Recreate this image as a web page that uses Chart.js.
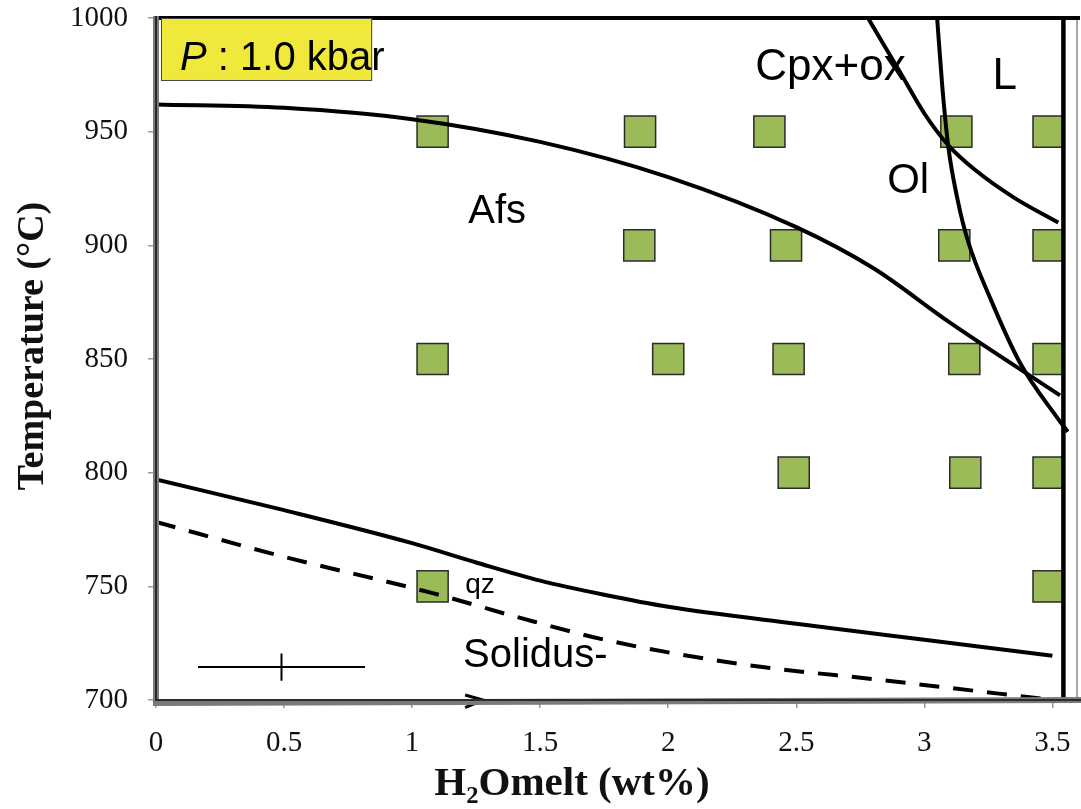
<!DOCTYPE html>
<html><head><meta charset="utf-8">
<script src="https://cdn.jsdelivr.net/npm/chart.js@4.4.1/dist/chart.umd.min.js"></script>
<style>html,body{margin:0;padding:0;background:#fff;}canvas{display:block;}</style>
</head><body>
<canvas id="c" width="1081" height="809"></canvas>
<script>
// ---- tick labels ----
const xTicks = [0, 0.5, 1, 1.5, 2, 2.5, 3, 3.5];
const yTicks = [700, 750, 800, 850, 900, 950, 1000];

// ---- experimental runs (H2O melt wt%, T °C) ----
const expH2O = [1.08, 1.89, 2.395, 3.125, 3.485,
                1.887, 2.46, 3.117, 3.485,
                1.08, 2.0, 2.47, 3.156, 3.485,
                2.49, 3.16, 3.485,
                1.08, 3.485];
const expT   = [950, 950, 950, 950, 950,
                900, 900, 900, 900,
                850, 850, 850, 850, 850,
                800, 800, 800,
                750, 750];

// ---- phase boundaries ----
const afsH2O = [0, 0.5, 1.0, 1.5, 2.0, 2.5, 2.8, 3.1, 3.53];
const afsT   = [962, 960.5, 955.5, 945.5, 930, 908, 890, 866, 834];

const qzH2O = [0, 0.5, 1.0, 1.25, 1.5, 1.75, 2.0, 2.5, 3.0, 3.5];
const qzT   = [797, 783.5, 769, 760.5, 752.5, 746.3, 741, 733.5, 726.5, 719.5];

const solidusH2O = [0, 0.5, 1.08, 1.41, 1.78, 2.31, 2.83, 3.49];
const solidusT   = [778.3, 763, 747, 736.5, 725.8, 715.4, 708.8, 700.2];

const cpxH2O = [2.78, 2.906, 3.0, 3.094, 3.2, 3.35, 3.523];
const cpxT   = [1000, 976, 958, 944, 933, 921, 910];

const olH2O = [3.05, 3.07, 3.094, 3.13, 3.17, 3.26, 3.375, 3.52, 3.56];
const olT   = [1000, 970, 943, 920, 902, 876, 848, 824, 818];

const satH2O = [3.543, 3.543];
const satT   = [700, 1000];

// ---- error bar (center, half widths) ----
const errH2O = [0.49];
const errT   = [714.5];
const errDH2O = [0.326];
const errDT   = [6];

// ---- arrow head on the x axis ----
const arrowH2O = [1.207, 1.277, 1.207];
const arrowT   = [702.2, 700, 696.6];

const pts = (xs, ys) => xs.map((x, i) => ({x: x, y: ys[i]}));

function curve(xs, ys, extra) {
  return Object.assign({
    data: pts(xs, ys), showLine: true, borderColor: '#000', borderWidth: 4,
    pointRadius: 0, cubicInterpolationMode: 'monotone', fill: false
  }, extra || {});
}

const labels = [
  {text: 'Cpx+ox', x: 2.34, y: 972.7, size: 44},
  {text: 'L', x: 3.266, y: 968.8, size: 44},
  {text: 'Ol', x: 2.855, y: 923, size: 42},
  {text: 'Afs', x: 1.219, y: 909.8, size: 40},
  {text: 'qz', x: 1.207, y: 747.1, size: 28},
  {text: 'Solidus-', x: 1.199, y: 714.5, size: 40}
];

const overlayPlugin = {
  id: 'overlay',
  afterDatasetsDraw(chart) {
    const ctx = chart.ctx, xs = chart.scales.x, ys = chart.scales.y;
    const a = chart.chartArea;
    ctx.save();
    // frame
    ctx.lineCap = 'butt';
    ctx.strokeStyle = '#8a8a8a'; ctx.lineWidth = 1.5;
    ctx.beginPath(); ctx.moveTo(a.right - 1, a.top); ctx.lineTo(a.right - 1, a.bottom); ctx.stroke();
    ctx.strokeStyle = '#000'; ctx.lineWidth = 4;
    ctx.beginPath(); ctx.moveTo(a.left, a.top); ctx.lineTo(a.right + 2, a.top); ctx.stroke();
    // left & bottom axis: gray band with dark core
    ctx.strokeStyle = '#7a7a7a'; ctx.lineWidth = 6;
    ctx.beginPath(); ctx.moveTo(a.left, a.top - 2); ctx.lineTo(a.left, a.bottom + 3); ctx.lineTo(a.right + 3, a.bottom); ctx.stroke();
    ctx.strokeStyle = '#2a2a2a'; ctx.lineWidth = 2;
    ctx.beginPath(); ctx.moveTo(a.left, a.top - 2); ctx.lineTo(a.left, a.bottom); ctx.lineTo(a.right + 3, a.bottom); ctx.stroke();

    // pressure box
    const bx0 = xs.getPixelForValue(0.0195), bx1 = xs.getPixelForValue(0.844);
    const by0 = ys.getPixelForValue(1000), by1 = ys.getPixelForValue(972.3);
    ctx.fillStyle = '#F0E93C';
    ctx.fillRect(bx0, by0, bx1 - bx0, by1 - by0);
    ctx.strokeStyle = '#444'; ctx.lineWidth = 1;
    ctx.strokeRect(bx0 + 0.5, by0 + 0.5, bx1 - bx0 - 1, by1 - by0 - 1);
    ctx.fillStyle = '#000'; ctx.textBaseline = 'alphabetic'; ctx.textAlign = 'left';
    let px = xs.getPixelForValue(0.094), py = ys.getPixelForValue(977.1);
    ctx.font = 'italic 40px "Liberation Sans"';
    ctx.fillText('P', px, py);
    px += ctx.measureText('P').width;
    ctx.font = '40px "Liberation Sans"';
    ctx.fillText(' : 1.0 kbar', px, py);

    // phase labels
    labels.forEach(l => {
      ctx.font = l.size + 'px "Liberation Sans"';
      ctx.fillText(l.text, xs.getPixelForValue(l.x), ys.getPixelForValue(l.y));
    });
    ctx.restore();
  },
  afterDraw(chart) {
    const ctx = chart.ctx;
    ctx.save();
    ctx.fillStyle = '#111';
    // x axis title
    ctx.font = 'bold 41px "Liberation Serif"';
    ctx.textAlign = 'center'; ctx.textBaseline = 'alphabetic';
    ctx.fillText('H₂Omelt (wt%)', 572, 795);
    // y axis title
    ctx.translate(33, 346);
    ctx.rotate(-Math.PI / 2);
    ctx.font = 'bold 38px "Liberation Serif"';
    ctx.textBaseline = 'middle';
    ctx.fillText('Temperature (°C)', 0, 0);
    ctx.restore();
  }
};

Chart.defaults.font.family = '"Liberation Serif"';
Chart.defaults.color = '#111';

new Chart(document.getElementById('c'), {
  type: 'scatter',
  data: {
    datasets: [
      curve(afsH2O, afsT),
      curve(qzH2O, qzT),
      curve(solidusH2O, solidusT, {borderDash: [20, 14]}),
      curve(cpxH2O, cpxT),
      curve(olH2O, olT),
      curve(satH2O, satT, {borderWidth: 4.5, cubicInterpolationMode: 'default', tension: 0}),
      curve([errH2O[0] - errDH2O[0], errH2O[0] + errDH2O[0]], [errT[0], errT[0]], {borderWidth: 2, tension: 0, cubicInterpolationMode: 'default'}),
      curve([errH2O[0], errH2O[0]], [errT[0] + errDT[0], errT[0] - errDT[0]], {borderWidth: 2, tension: 0, cubicInterpolationMode: 'default'}),
      curve(arrowH2O, arrowT, {borderWidth: 3, tension: 0, cubicInterpolationMode: 'default', clip: false}),
      {
        data: pts(expH2O, expT), pointStyle: 'rect', pointRadius: 22, pointHoverRadius: 22,
        backgroundColor: '#9BBB59', borderColor: '#2b2b2b', borderWidth: 1.5, showLine: false
      }
    ]
  },
  options: {
    responsive: false, animation: false, devicePixelRatio: 1,
    layout: {autoPadding: false, padding: {top: 18, right: 3, left: 0, bottom: 0}},
    plugins: {legend: {display: false}, tooltip: {enabled: false}},
    scales: {
      x: {
        type: 'linear', min: 0, max: 3.6,
        afterBuildTicks: s => { s.ticks = xTicks.map(v => ({value: v})); },
        afterFit: s => { s.height = 109; s.paddingLeft = 0; s.paddingRight = 0; },
        ticks: {font: {size: 29}, color: '#111', padding: 18, maxRotation: 0, autoSkip: false, callback: v => String(v)},
        grid: {drawOnChartArea: false, drawTicks: true, tickLength: 8, color: '#9a9a9a', lineWidth: 1.5},
        border: {display: false},
        title: {display: false}
      },
      y: {
        type: 'linear', min: 700, max: 1000,
        afterBuildTicks: s => { s.ticks = yTicks.map(v => ({value: v})); },
        afterFit: s => { s.width = 156; s.paddingTop = 0; s.paddingBottom = 0; },
        ticks: {font: {size: 29}, color: '#111', padding: 20, autoSkip: false, callback: v => String(v)},
        grid: {drawOnChartArea: false, drawTicks: true, tickLength: 8, color: '#9a9a9a', lineWidth: 1.5},
        border: {display: false},
        title: {display: false}
      }
    }
  },
  plugins: [overlayPlugin]
});
</script>
</body></html>
